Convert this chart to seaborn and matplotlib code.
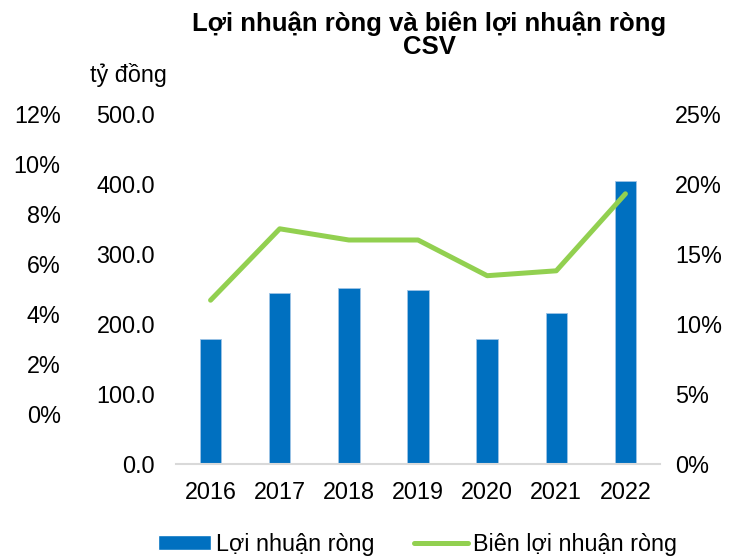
import numpy as np
import pandas as pd
import seaborn as sns
import matplotlib.pyplot as plt
from matplotlib.patches import Patch
from matplotlib.lines import Line2D

years = ["2016", "2017", "2018", "2019", "2020", "2021", "2022"]
net_profit = [179, 244, 252, 249, 178, 216, 404]  # tỷ đồng
net_margin = [11.7, 16.8, 16.0, 16.0, 13.45, 13.8, 19.3]  # %
stray_ticks = [0, 2, 4, 6, 8, 10, 12]  # extra left axis in the source chart

df = pd.DataFrame({"year": years, "profit": net_profit, "margin": net_margin})

sns.set_theme(style="white")
plt.rcParams["font.family"] = ["Liberation Sans", "DejaVu Sans"]
plt.rcParams["text.color"] = "black"

bar_color = "#0070C0"
line_color = "#92D050"
fs = 16.8

fig = plt.figure(figsize=(7.45, 5.6), dpi=100)
ax = fig.add_axes([176 / 745, 1 - 464 / 560, 484 / 745, 350 / 560])

sns.barplot(data=df, x="year", y="profit", color=bar_color, width=0.31,
            edgecolor="#9DC3E6", linewidth=0.6, saturation=1, ax=ax)
ax.set_xlim(-0.5, 6.5)
ax.set_ylim(0, 500)
ax.set_yticks(np.arange(0, 501, 100))
ax.set_yticklabels([f"{v:.1f}" for v in np.arange(0, 501, 100)])
ax.set_xlabel("")
ax.set_ylabel("")
for s in ["top", "right", "left"]:
    ax.spines[s].set_visible(False)
ax.spines["bottom"].set_color("#D9D9D9")
ax.spines["bottom"].set_linewidth(1.5)
ax.tick_params(axis="y", length=0, pad=15, labelsize=fs, colors="black")
ax.tick_params(axis="x", length=0, pad=12, labelsize=fs, colors="black")

# margin line on right axis
ax2 = ax.twinx()
sns.lineplot(x=np.arange(len(years)), y=df["margin"], color=line_color,
             linewidth=3.6, ax=ax2, solid_capstyle="round")
ax2.set_ylim(0, 25)
ax2.set_yticks(np.arange(0, 26, 5))
ax2.set_yticklabels([f"{v}%" for v in range(0, 26, 5)])
ax2.set_ylabel("")
for s in ["top", "right", "left", "bottom"]:
    ax2.spines[s].set_visible(False)
ax2.tick_params(axis="y", length=0, pad=11, labelsize=fs, colors="black")

# leftover axis on far left
ax3 = ax.twinx()
ax3.set_ylim(-2, 12)
ax3.set_yticks(stray_ticks)
ax3.set_yticklabels([f"{v}%" for v in stray_ticks])
ax3.yaxis.tick_left()
for s in ["top", "right", "left", "bottom"]:
    ax3.spines[s].set_visible(False)
ax3.tick_params(axis="y", length=0, pad=83, labelsize=fs, colors="black")

fig.text(0.576, 1 - 35 / 560, "Lợi nhuận ròng và biên lợi nhuận ròng\nCSV",
         ha="center", va="center", fontsize=18.5, fontweight="bold",
         linespacing=0.95)
fig.text(128 / 745, 1 - 75 / 560, "tỷ đồng", ha="center", va="center",
         fontsize=fs)

handles = [Patch(facecolor=bar_color, label="Lợi nhuận ròng"),
           Line2D([0], [0], color=line_color, linewidth=3.6,
                  label="Biên lợi nhuận ròng")]
fig.legend(handles=handles, loc="center", bbox_to_anchor=(0.56, 1 - 544 / 560),
           ncol=2, frameon=False, fontsize=fs, handlelength=2.3,
           handleheight=0.6, handletextpad=0.2, columnspacing=1.7)

fig.savefig("out.png", dpi=100)
